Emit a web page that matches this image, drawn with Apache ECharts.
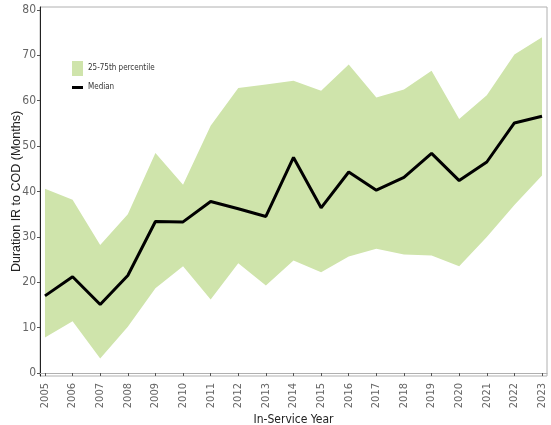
<!DOCTYPE html>
<html><head><meta charset="utf-8">
<script src="https://cdn.jsdelivr.net/npm/echarts@6/dist/echarts.min.js"></script>
<style>html,body{margin:0;padding:0;background:#fff}#c{width:551px;height:425px}</style>
</head><body><div id="c"></div>
<script>
const years = [2005,2006,2007,2008,2009,2010,2011,2012,2013,2014,2015,2016,2017,2018,2019,2020,2021,2022,2023];
const median = [17.0,21.2,15.1,21.5,33.4,33.3,37.8,36.2,34.5,47.5,36.4,44.3,40.3,43.1,48.4,42.4,46.5,55.1,56.6];
const p75 = [40.6,38.2,28.2,35.0,48.5,41.5,54.5,62.8,63.6,64.4,62.2,68.0,60.7,62.5,66.6,56.0,61.2,70.2,74.0];
const p25 = [7.8,11.4,3.2,10.2,18.7,23.5,16.2,24.2,19.3,24.8,22.2,25.7,27.4,26.1,25.9,23.5,30.0,37.0,43.5];
const yTicks = [0,10,20,30,40,50,60,70,80];

const font = '"DejaVu Sans Condensed","Liberation Sans Narrow","Liberation Sans",Arial,sans-serif';
const chart = echarts.init(document.getElementById('c'), null, {renderer:'canvas'});
chart.setOption({
  animation:false,
  grid:{left:40,right:4,top:7,bottom:49,show:true,borderColor:'#b0b0b0',borderWidth:1,
    containLabel:false,outerBoundsMode:'none'},
  xAxis:{type:'value',min:2004.82,max:2023.18,
    name:'In-Service Year',nameLocation:'middle',nameGap:38,nameMoveOverlap:false,
    nameTextStyle:{color:'#222',fontSize:12,fontFamily:font},
    axisLine:{show:true,lineStyle:{color:'#b0b0b0',width:1}},
    axisTick:{show:true,customValues:years,length:3,lineStyle:{color:'#555'}},
    axisLabel:{customValues:years,rotate:90,color:'#666',fontSize:11,fontFamily:font,margin:7,formatter:v=>String(v)},
    splitLine:{show:false}},
  yAxis:{type:'value',min:-0.66,max:80.66,
    name:'Duration IR to COD (Months)',nameLocation:'middle',nameGap:17,nameMoveOverlap:false,
    nameTextStyle:{color:'#222',fontSize:12.5,fontFamily:'"Liberation Sans",Arial,sans-serif'},
    axisLine:{show:true,lineStyle:{color:'#222',width:1}},
    axisTick:{show:true,customValues:yTicks,length:3,lineStyle:{color:'#555'}},
    axisLabel:{customValues:yTicks,color:'#666',fontSize:12,fontFamily:font,margin:4},
    splitLine:{show:false}},
  series:[
    {type:'custom',silent:true,z:1,
      data:years.map((y,i)=>[y,p25[i],p75[i]]),
      encode:{x:0,y:[1,2]},
      renderItem:function(params,api){
        if(params.dataIndex!==0) return null;
        const pts=[];
        for(let i=0;i<years.length;i++) pts.push(api.coord([years[i],p75[i]]));
        for(let i=years.length-1;i>=0;i--) pts.push(api.coord([years[i],p25[i]]));
        return {type:'polygon',shape:{points:pts},style:{fill:'#cfe4ab'}};
      }},
    {type:'line',name:'Median',z:3,data:years.map((y,i)=>[y,median[i]]),symbol:'none',
      lineStyle:{color:'#000',width:3}}
  ],
  graphic:[
    {type:'rect',left:72,top:61,shape:{width:11,height:15},style:{fill:'#cfe4ab'}},
    {type:'text',left:88,top:64,style:{text:'25-75th percentile',fill:'#333',fontSize:8,fontFamily:font}},
    {type:'rect',left:72,top:86,shape:{width:11,height:3},style:{fill:'#000'}},
    {type:'text',left:88,top:83,style:{text:'Median',fill:'#333',fontSize:8,fontFamily:font}}
  ]
});
</script></body></html>
